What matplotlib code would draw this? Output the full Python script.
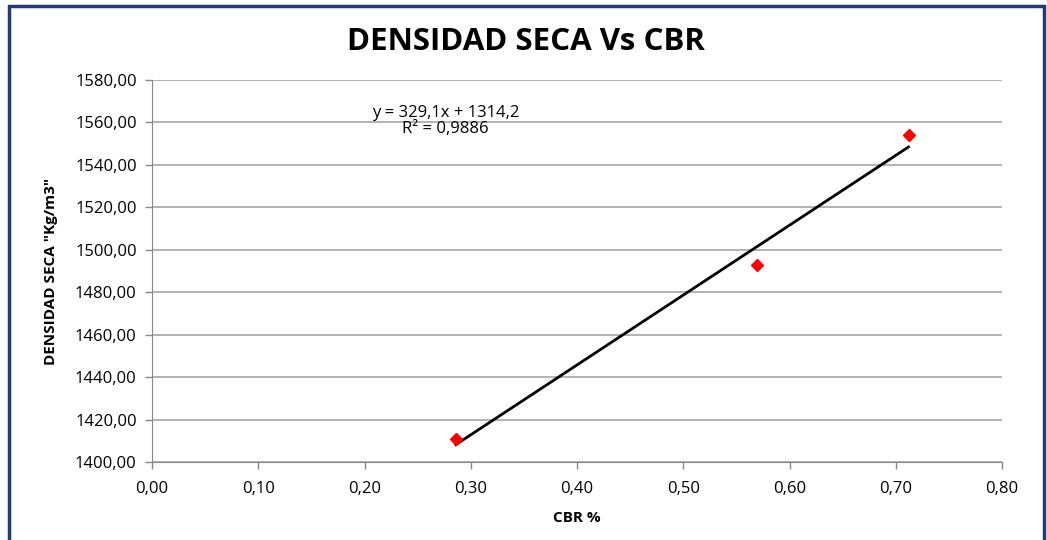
import numpy as np
import matplotlib.pyplot as plt
from matplotlib.patches import Rectangle
from matplotlib.ticker import FuncFormatter

# datos
cbr = [0.286, 0.569, 0.712]
densidad = [1411.0, 1493.0, 1554.0]
x_ticks = [0.0, 0.1, 0.2, 0.3, 0.4, 0.5, 0.6, 0.7, 0.8]
y_ticks = [1400, 1420, 1440, 1460, 1480, 1500, 1520, 1540, 1560, 1580]

plt.rcParams['font.family'] = ['Open Sans', 'DejaVu Sans']

fig = plt.figure(figsize=(10.47, 5.4), dpi=100)
ax = fig.add_axes([152 / 1047, 1 - 462 / 540, 850 / 1047, 382 / 540])

# borde del grafico
fig.patches.append(Rectangle((9 / 1047, -0.05), 1035 / 1047, 1.05 - 6 / 540,
                             transform=fig.transFigure, fill=False,
                             edgecolor='#1f3b7c', linewidth=2.5))

# linea de tendencia
m, b = np.polyfit(cbr, densidad, 1)
xs = np.array([min(cbr), max(cbr)])
ax.plot(xs, m * xs + b, color='black', linewidth=2, zorder=3)
ax.plot(cbr, densidad, linestyle='none', marker='D', markersize=6.5,
        color='red', markeredgecolor='red', zorder=4)

ax.text(0.276, 1560.5, 'y = 329,1x + 1314,2\nR² = 0,9886', ha='center', va='center',
        fontsize=12, linespacing=1.0)

ax.set_xlim(0, 0.8)
ax.set_ylim(1400, 1580)
ax.set_xticks(x_ticks)
ax.set_yticks(y_ticks)
ax.xaxis.set_major_formatter(FuncFormatter(lambda v, p: f'{v:.2f}'.replace('.', ',')))
ax.yaxis.set_major_formatter(FuncFormatter(lambda v, p: f'{v:.2f}'.replace('.', ',')))
ax.tick_params(labelsize=12, color='#888888', length=5, width=1)
ax.tick_params(axis='x', pad=9)
ax.tick_params(axis='y', pad=6)
ax.grid(axis='y', color='#a6a6a6', linewidth=1.2)
ax.set_axisbelow(True)
for s in ['top', 'right']:
    ax.spines[s].set_visible(False)
for s in ['left', 'bottom']:
    ax.spines[s].set_color('#888888')

ax.set_xlabel('CBR %', fontsize=11, fontweight='bold', labelpad=10)
ax.set_ylabel('DENSIDAD SECA "Kg/m3"', fontsize=11, fontweight='bold', labelpad=12)
fig.text(0.502, 0.922, 'DENSIDAD SECA Vs CBR', ha='center', va='center',
         fontsize=22.5, fontweight='bold')

fig.savefig('out.png', dpi=100)
